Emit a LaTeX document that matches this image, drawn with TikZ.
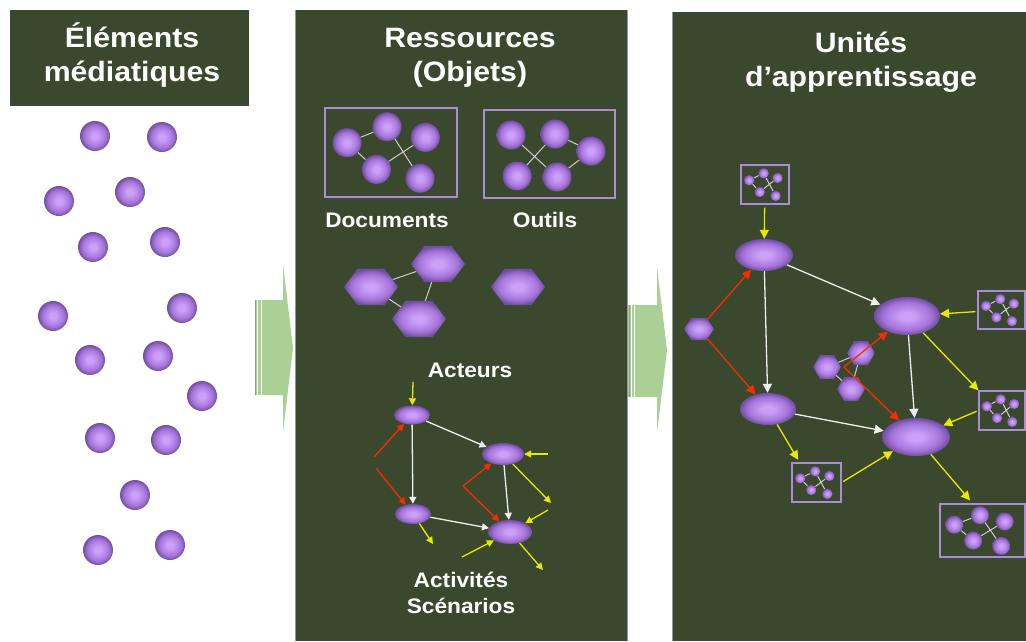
\documentclass[tikz,border=0pt]{standalone}
\usepackage{fontspec}
\setmainfont{Liberation Sans}[FakeStretch=1.08]
\usetikzlibrary{arrows.meta,shapes.geometric}
\definecolor{panel}{RGB}{58,72,45}
\definecolor{paneledge}{RGB}{150,150,150}
\definecolor{orbA}{RGB}{204,160,248}
\definecolor{orbB}{RGB}{165,116,218}
\definecolor{orbC}{RGB}{112,78,160}
\definecolor{boxc}{RGB}{170,140,215}
\definecolor{linkc}{RGB}{205,205,205}
\definecolor{arrowgreen}{RGB}{170,208,150}
\definecolor{yel}{RGB}{232,232,0}
\definecolor{redc}{RGB}{245,45,0}
\definecolor{whitec}{RGB}{238,238,238}
\pgfdeclareradialshading{orb}{\pgfpoint{0bp}{0bp}}{color(0bp)=(orbA); color(5bp)=(orbA); color(18bp)=(orbB); color(25bp)=(orbC); color(50bp)=(orbC)}
\tikzset{
  orb/.style={circle, inner sep=0pt, shade, shading=orb},
  ell/.style={ellipse, inner sep=0pt, shade, shading=orb},
  hexa/.style={regular polygon, regular polygon sides=6, inner sep=0pt, shade, shading=orb},
  netbox/.style={draw=boxc, line width=1.2pt, inner sep=0pt},
  netlink/.style={draw=linkc, line width=1pt},
  paneltitle/.style={text=white, font=\fontsize{28}{34}\selectfont\bfseries, align=center, inner sep=0pt},
  panellabel/.style={text=white, font=\fontsize{21}{26}\selectfont\bfseries, align=center, inner sep=0pt},
  tipS/.style={-{Triangle[length=7pt,width=7pt]}},
  tipL/.style={-{Triangle[length=9pt,width=9pt]}},
  wa/.style={draw=whitec, line width=1.3pt},
  ya/.style={draw=yel, line width=1.3pt},
  ra/.style={draw=redc, line width=1.3pt},
  bigarrow/.style={fill=arrowgreen},
}
\newcommand\docnet[6]{%
  \node[netbox, minimum width=#4pt, minimum height=#5pt] (#1) at (#2,#3) {};
  \begin{scope}[shift={(#2,#3)}, x=#4pt, y=-#5pt]
    \node[orb, minimum size=#6pt] (#1-1) at (-0.333,-0.11) {};
    \node[orb, minimum size=#6pt] (#1-2) at (-0.03,-0.29) {};
    \node[orb, minimum size=#6pt] (#1-3) at (0.26,-0.17) {};
    \node[orb, minimum size=#6pt] (#1-4) at (-0.11,0.19) {};
    \node[orb, minimum size=#6pt] (#1-5) at (0.22,0.29) {};
  \end{scope}
  \draw[netlink] (#1-1)--(#1-2) (#1-1)--(#1-4) (#1-2)--(#1-5) (#1-4)--(#1-3);
}
\begin{document}
\begin{tikzpicture}[x=1pt,y=-1pt]
\useasboundingbox (0,0) rectangle (1026,641);
\fill[white] (0,0) rectangle (1026,641);
% panels
\fill[panel] (10,10) rectangle (249,106);
\fill[panel] (295,10) rectangle (628,641);
\fill[panel] (672,12) rectangle (1026,641);
\draw[paneledge, line width=1pt] (295.5,641) -- (295.5,10);
\draw[paneledge, line width=1pt] (627.5,641) -- (627.5,10);
\draw[paneledge, line width=1pt] (672.5,641) -- (672.5,12);
% big arrows
\fill[bigarrow] (255,300) -- (283,300) -- (283,264) -- (293,348) -- (283,432) -- (283,395) -- (255,395) -- cycle;
\draw[paneledge, line width=0.8pt] (255.5,300) -- (255.5,395);
\draw[white, line width=0.8pt] (257.5,300) -- (257.5,395) (261,300) -- (261,395);
\fill[bigarrow] (628,305) -- (657,305) -- (657,267) -- (667,350) -- (657,433) -- (657,397) -- (628,397) -- cycle;
\draw[paneledge, line width=0.8pt] (629,305) -- (629,397);
\draw[white, line width=0.8pt] (631,305) -- (631,397) (634,305) -- (634,397);
% titles
\node[paneltitle] (t1) at (132,54.5) {Éléments\\médiatiques};
\node[paneltitle] (t2) at (470,58) {Ressources\\(Objets)};
\node[paneltitle] (t3) at (861,62.5) {Unités\\d’apprentissage};
% left spheres
\foreach \a/\b [count=\i] in {95/136,162/137,59/201,130/192,93/247,165/242,53/316,182/308,90/360,158/356,202/396,100/438,166/440,135/495,98/550,170/545}
  \node[orb, minimum size=30pt] (m\i) at (\a,\b) {};
% Documents
\docnet{docs}{391}{152.5}{132}{89}{29}
\node[panellabel, anchor=base] (ldocs) at (387,227) {Documents};
% Outils
\node[netbox, minimum width=131pt, minimum height=88pt] (tools) at (549.5,154) {};
\node[orb, minimum size=29pt] (o1) at (511,135) {};
\node[orb, minimum size=29pt] (o2) at (555,134) {};
\node[orb, minimum size=29pt] (o3) at (591,151) {};
\node[orb, minimum size=29pt] (o4) at (517,176) {};
\node[orb, minimum size=29pt] (o5) at (557,177) {};
\draw[netlink] (o1)--(o5) (o2)--(o4) (o2)--(o3) (o3)--(o5);
\node[panellabel, anchor=base] (ltools) at (545,227) {Outils};
% Acteurs
\node[hexa, minimum size=41.6pt, xscale=1.3] (h1) at (371,287) {};
\node[hexa, minimum size=41.6pt, xscale=1.3] (h2) at (438,264) {};
\node[hexa, minimum size=41.6pt, xscale=1.3] (h3) at (419,319) {};
\node[hexa, minimum size=41.6pt, xscale=1.3] (h4) at (518,287) {};
\draw[netlink] (h1)--(h2) (h2)--(h3) (h1)--(h3);
\node[panellabel, anchor=base] (lact) at (470,377) {Acteurs};
% Activities graph
\node[ell, minimum width=36pt, minimum height=19pt] (a1) at (412,415) {};
\node[ell, minimum width=42pt, minimum height=22pt] (a2) at (503,454) {};
\node[ell, minimum width=36pt, minimum height=20pt] (a3) at (413,514) {};
\node[ell, minimum width=44pt, minimum height=24pt] (a4) at (510,532) {};
\coordinate (ra1) at (374,457);
\coordinate (ra2) at (376,468);
\coordinate (rb) at (463,486);
\coordinate (y1) at (413,382);
\coordinate (y2) at (548,454);
\coordinate (y3) at (551,503);
\coordinate (y4) at (548,510);
\coordinate (y5) at (433,544);
\coordinate (y6) at (462,557);
\coordinate (y7) at (543,570);
\draw[wa,tipS] (a1) -- (a3);
\draw[wa,tipS] (a1) -- (a2);
\draw[wa,tipS] (a2) -- (a4);
\draw[wa,tipS] (a3) -- (a4);
\draw[ra,tipS] (ra1) -- (a1);
\draw[ra,tipS] (ra2) -- (a3);
\draw[ra,tipS] (rb) -- (a2);
\draw[ra,tipS] (rb) -- (a4);
\draw[ya,tipS] (y1) -- (a1);
\draw[ya,tipS] (y2) -- (a2);
\draw[ya,tipS] (a2) -- (y3);
\draw[ya,tipS] (y4) -- (a4);
\draw[ya,tipS] (a3) -- (y5);
\draw[ya,tipS] (y6) -- (a4);
\draw[ya,tipS] (a4) -- (y7);
\node[panellabel] (lactiv) at (461,593) {Activités\\Scénarios};
% Right panel
\docnet{mt}{765}{184.5}{48}{39}{10.5}
\docnet{mr1}{1001.5}{310}{47}{38}{10.5}
\docnet{mr2}{1002}{410.5}{46}{39}{10.5}
\docnet{mb1}{816.5}{482.5}{49}{39}{10.5}
\docnet{mb2}{982.5}{530.5}{85}{53}{18}
\node[ell, minimum width=58pt, minimum height=32pt] (f1) at (764,255) {};
\node[ell, minimum width=66pt, minimum height=38pt] (f2) at (907,316) {};
\node[ell, minimum width=56pt, minimum height=32pt] (f3) at (768,409) {};
\node[ell, minimum width=68pt, minimum height=38pt] (f4) at (916,437) {};
\node[hexa, minimum size=25.4pt, xscale=1.18] (hr) at (699,329) {};
\node[hexa, minimum size=27.7pt] (c1) at (827,367) {};
\node[hexa, minimum size=27.7pt] (c2) at (861,353) {};
\node[hexa, minimum size=27.7pt] (c3) at (851,389) {};
\draw[netlink] (c1)--(c2) (c2)--(c3) (c1)--(c3);
\coordinate (rc) at (844,367);
\draw[wa,tipL] (f1) -- (f3);
\draw[wa,tipL] (f1) -- (f2);
\draw[wa,tipL] (f2) -- (f4);
\draw[wa,tipL] (f3) -- (f4);
\draw[ra,tipL] (hr) -- (f1);
\draw[ra,tipL] (hr) -- (f3);
\draw[ra,tipL] (rc) -- (f2);
\draw[ra,tipL] (rc) -- (f4);
\draw[ya,tipL,shorten <=3pt] (mt) -- (f1);
\draw[ya,tipL,shorten <=2pt] (mr1) -- (f2);
\draw[ya,tipL] (f2) -- (mr2.north west);
\draw[ya,tipL,shorten <=2pt] (mr2.west) -- (f4);
\draw[ya,tipL,shorten >=3pt] (f3) -- (mb1.130);
\draw[ya,tipL,shorten <=2pt] (mb1.east) -- (f4);
\draw[ya,tipL,shorten >=4pt] (f4) -- (mb2.110);
\end{tikzpicture}
\end{document}
